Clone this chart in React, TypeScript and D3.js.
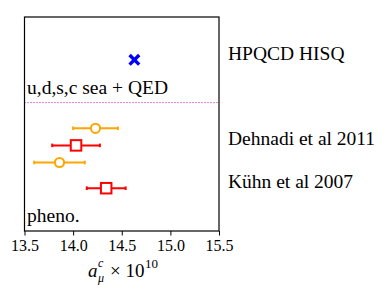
import React, { useEffect, useRef } from "react";
import * as d3 from "d3";

// x ticks
const xTicks = [13.5, 14.0, 14.5, 15.0, 15.5];

// HPQCD lattice result
const latticeVals = [14.63];
const latticeRows = [8];

// Dehnadi et al (orange circles)
const circleVals = [14.23, 13.86];
const circleErrs = [0.23, 0.26];
const circleRows = [4.8, 3.2];

// Kühn et al (red squares)
const squareVals = [14.03, 14.34];
const squareErrs = [0.245, 0.2];
const squareRows = [4.0, 2.0];

const rightLabels = ["HPQCD HISQ", "Dehnadi et al 2011", "Kühn et al 2007"];
const rightLabelRows = [8, 4, 2];

const groupLabels = ["u,d,s,c sea + QED", "pheno."];
const groupLabelRows = [6.4, 0.42];
const dividerRow = 6;

const FONT =
  "'Liberation Serif', Tinos, 'Times New Roman', Times, 'Noto Serif', 'DejaVu Serif', 'Nimbus Roman', FreeSerif, serif";

export default function App() {
  const ref = useRef<SVGSVGElement | null>(null);

  useEffect(() => {
    const width = 390;
    const height = 294;
    const left = 24.5;
    const right = 219;
    const top = 17;
    const bottom = 231;

    d3.select(ref.current).selectAll("*").remove();
    const svg = d3
      .select(ref.current)
      .attr("width", width)
      .attr("height", height)
      .style("font-family", FONT);

    const x = d3.scaleLinear().domain([13.5, 15.5]).range([left, right]);
    const y = d3.scaleLinear().domain([0, 10]).range([bottom, top]);

    // divider
    svg
      .append("line")
      .attr("x1", left)
      .attr("x2", right)
      .attr("y1", y(dividerRow))
      .attr("y2", y(dividerRow))
      .attr("stroke", "#bf00bf")
      .attr("stroke-width", 1)
      .attr("stroke-dasharray", "1,2");

    // group labels
    svg
      .selectAll(".grp")
      .data(groupLabels)
      .enter()
      .append("text")
      .attr("x", left + 2.5)
      .attr("y", (d, i) => y(groupLabelRows[i]))
      .style("font-family", FONT)
      .attr("font-size", 19.5)
      .attr("fill", "#000")
      .text((d) => d);

    // error bars
    const drawErr = (vals: number[], errs: number[], rows: number[], color: string) => {
      vals.forEach((v, i) => {
        const yy = y(rows[i]);
        svg
          .append("line")
          .attr("x1", x(v - errs[i]))
          .attr("x2", x(v + errs[i]))
          .attr("y1", yy)
          .attr("y2", yy)
          .attr("stroke", color)
          .attr("stroke-width", 2);
        [v - errs[i], v + errs[i]].forEach((e) => {
          svg
            .append("line")
            .attr("x1", x(e))
            .attr("x2", x(e))
            .attr("y1", yy - 1.8)
            .attr("y2", yy + 1.8)
            .attr("stroke", color)
            .attr("stroke-width", 2);
        });
      });
    };
    drawErr(circleVals, circleErrs, circleRows, "#ffa500");
    drawErr(squareVals, squareErrs, squareRows, "#ff0000");

    // circles
    svg
      .selectAll(".circ")
      .data(circleVals)
      .enter()
      .append("circle")
      .attr("cx", (d) => x(d))
      .attr("cy", (d, i) => y(circleRows[i]))
      .attr("r", 4.6)
      .attr("fill", "#fff")
      .attr("stroke", "#ffa500")
      .attr("stroke-width", 2);

    // squares
    const s = 10.5;
    svg
      .selectAll(".sq")
      .data(squareVals)
      .enter()
      .append("rect")
      .attr("x", (d) => x(d) - s / 2)
      .attr("y", (d, i) => y(squareRows[i]) - s / 2)
      .attr("width", s)
      .attr("height", s)
      .attr("fill", "#fff")
      .attr("stroke", "#ff0000")
      .attr("stroke-width", 2);

    // lattice crosses
    latticeVals.forEach((v, i) => {
      const cx = x(v);
      const cy = y(latticeRows[i]);
      const r = 4.8;
      svg
        .append("path")
        .attr("d", `M${cx - r},${cy - r}L${cx + r},${cy + r}M${cx - r},${cy + r}L${cx + r},${cy - r}`)
        .attr("stroke", "#0000ff")
        .attr("stroke-width", 3.4)
        .attr("fill", "none");
    });

    // frame
    svg
      .append("rect")
      .attr("x", left)
      .attr("y", top)
      .attr("width", right - left)
      .attr("height", bottom - top)
      .attr("fill", "none")
      .attr("stroke", "#000")
      .attr("stroke-width", 1.2);

    // x axis
    const axis = svg
      .append("g")
      .attr("transform", `translate(0,${bottom})`)
      .call(
        d3
          .axisBottom(x)
          .tickValues(xTicks)
          .tickSize(4.5)
          .tickPadding(4)
          .tickFormat((d) => Number(d).toFixed(1)),
      );
    axis.attr("font-family", null);
    axis.select(".domain").remove();
    axis.selectAll("line").attr("stroke", "#000").attr("stroke-width", 1);
    axis
      .selectAll("text")
      .style("font-family", FONT)
      .attr("font-size", 16)
      .attr("fill", "#000");

    // x label: a_mu^c x 10^10
    const lx = 88;
    const ly = 277;
    svg
      .append("text")
      .attr("x", lx)
      .attr("y", ly)
      .style("font-family", FONT)
      .attr("font-size", 19)
      .attr("font-style", "italic")
      .text("a");
    svg
      .append("text")
      .attr("x", lx + 10)
      .attr("y", ly - 10)
      .style("font-family", FONT)
      .attr("font-size", 12)
      .attr("font-style", "italic")
      .text("c");
    svg
      .append("text")
      .attr("x", lx + 10)
      .attr("y", ly + 5)
      .style("font-family", FONT)
      .attr("font-size", 12)
      .attr("font-style", "italic")
      .text("μ");
    svg
      .append("text")
      .attr("x", lx + 22)
      .attr("y", ly)
      .style("font-family", FONT)
      .attr("font-size", 19)
      .text("× 10");
    svg
      .append("text")
      .attr("x", lx + 57)
      .attr("y", ly - 9)
      .style("font-family", FONT)
      .attr("font-size", 13)
      .text("10");

    // right labels
    svg
      .selectAll(".rl")
      .data(rightLabels)
      .enter()
      .append("text")
      .attr("x", 228)
      .attr("y", (d, i) => y(rightLabelRows[i]))
      .style("font-family", FONT)
      .attr("font-size", 19.5)
      .attr("fill", "#000")
      .text((d) => d);
  }, []);

  return (
    <svg
      ref={ref}
      style={{ position: "absolute", left: 0, top: 0, background: "#fff" }}
    ></svg>
  );
}
